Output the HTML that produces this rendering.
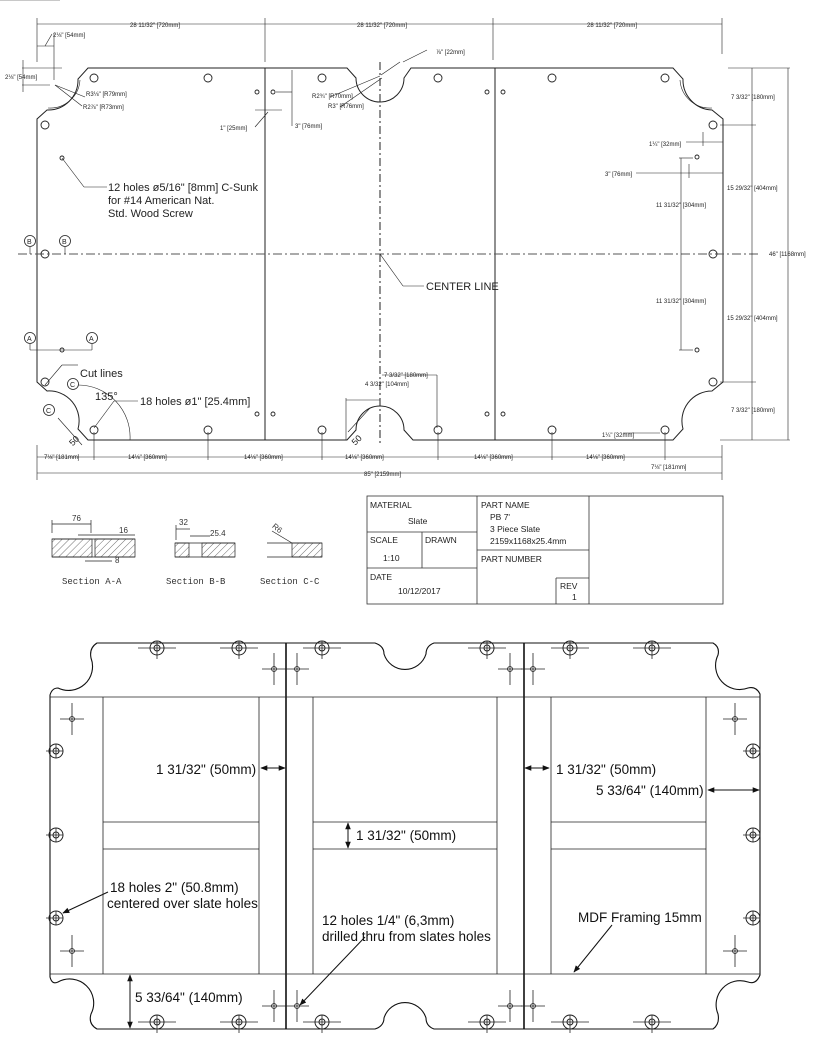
<!DOCTYPE html>
<html><head><meta charset="utf-8"><style>
html,body{margin:0;padding:0;background:#fff;}
svg{display:block;}
.d{font-family:"Liberation Sans Narrow","Liberation Sans",sans-serif;font-size:6px;fill:#222;}
.n{font-family:"Liberation Sans Narrow","Liberation Sans",sans-serif;font-size:11px;fill:#222;}
.a{font-family:"Liberation Sans",Arial,sans-serif;font-size:13.5px;fill:#111;}
.t{font-family:"Liberation Sans",Arial,sans-serif;font-size:8.5px;fill:#222;}
</style></head><body>
<svg width="814" height="1054" viewBox="0 0 814 1054" xmlns="http://www.w3.org/2000/svg">
<defs>
<marker id="ar" viewBox="0 0 10 10" refX="9" refY="5" markerWidth="7" markerHeight="7" orient="auto-start-reverse"><path d="M0,1 L10,5 L0,9 z" fill="#111"/></marker>
<marker id="as" viewBox="0 0 10 10" refX="9" refY="5" markerWidth="4" markerHeight="4" orient="auto-start-reverse"><path d="M0,2 L10,5 L0,8 z" fill="#222"/></marker>
<pattern id="h" width="5" height="5" patternUnits="userSpaceOnUse" patternTransform="rotate(45)"><line x1="0" y1="0" x2="0" y2="5" stroke="#333" stroke-width="0.7"/></pattern>
<g id="hole"><circle r="7" fill="none" stroke="#222" stroke-width="1"/><circle r="3" fill="none" stroke="#222" stroke-width="1"/><line x1="-19" y1="0" x2="19" y2="0" stroke="#222" stroke-width="0.8"/><line x1="0" y1="-7" x2="0" y2="11" stroke="#222" stroke-width="0.8"/></g>
<g id="vhole"><circle r="7" fill="none" stroke="#222" stroke-width="1"/><circle r="3" fill="none" stroke="#222" stroke-width="1"/><line x1="-10" y1="0" x2="7" y2="0" stroke="#222" stroke-width="0.8"/><line x1="0" y1="-7" x2="0" y2="7" stroke="#222" stroke-width="0.8"/></g>
<g id="cr"><circle r="2.5" fill="none" stroke="#222" stroke-width="0.8"/><line x1="-12" y1="0" x2="12" y2="0" stroke="#222" stroke-width="0.8"/><line x1="0" y1="-16" x2="0" y2="16" stroke="#222" stroke-width="0.8"/></g>
</defs>

<!-- ================= TOP DRAWING ================= -->
<g fill="none" stroke="#222" stroke-width="1">
<path d="M88,68 L347,68 L356,78 A24,24 0 0 0 404,78 L411,68 L673,68 L683,79 A30,30 0 0 0 712,110 L723,119 L723,382 L712,391 A30,30 0 0 0 683,429 L673,440 L413,440 L404,430 A24,24 0 0 0 356,430 L347,440 L88,440 L78,429 A30,30 0 0 0 47,391 L37,382 L37,119 L47,110 A30,30 0 0 0 78,79 Z"/>
<path d="M80,80 A30,30 0 0 1 48,108" stroke-width="0.6"/>
<path d="M680,80 A30,30 0 0 0 712,108" stroke-width="0.6"/>
<line x1="265" y1="68" x2="265" y2="440"/>
<line x1="495" y1="68" x2="495" y2="440"/>
<line x1="380" y1="62" x2="380" y2="445" stroke-dasharray="8,3,2,3"/>
<line x1="18" y1="254" x2="760" y2="254" stroke-dasharray="9,3,2,3" stroke="#555"/>
</g>
<g fill="none" stroke="#222" stroke-width="0.9">
<circle cx="94" cy="78" r="4"/><circle cx="208" cy="78" r="4"/><circle cx="322" cy="78" r="4"/><circle cx="438" cy="78" r="4"/><circle cx="552" cy="78" r="4"/><circle cx="665" cy="78" r="4"/>
<circle cx="94" cy="430" r="4"/><circle cx="208" cy="430" r="4"/><circle cx="322" cy="430" r="4"/><circle cx="438" cy="430" r="4"/><circle cx="552" cy="430" r="4"/><circle cx="665" cy="430" r="4"/>
<circle cx="45" cy="125" r="4"/><circle cx="45" cy="254" r="4"/><circle cx="45" cy="382" r="4"/>
<circle cx="713" cy="125" r="4"/><circle cx="713" cy="254" r="4"/><circle cx="713" cy="382" r="4"/>
<circle cx="257" cy="92" r="2"/><circle cx="273" cy="92" r="2"/><circle cx="487" cy="92" r="2"/><circle cx="503" cy="92" r="2"/>
<circle cx="257" cy="414" r="2"/><circle cx="273" cy="414" r="2"/><circle cx="487" cy="414" r="2"/><circle cx="503" cy="414" r="2"/>
<circle cx="62" cy="158" r="2"/><circle cx="697" cy="157" r="2"/><circle cx="697" cy="350" r="2"/><circle cx="62" cy="350" r="2"/>
</g>
<!-- dimension lines -->
<g stroke="#222" stroke-width="0.6" fill="none">
<line x1="37" y1="24" x2="722" y2="24"/>
<line x1="37" y1="18" x2="37" y2="62"/><line x1="265" y1="18" x2="265" y2="62"/><line x1="493" y1="18" x2="493" y2="60"/><line x1="722" y1="18" x2="722" y2="54"/>
<line x1="54" y1="33" x2="54" y2="80"/><line x1="37" y1="46" x2="54" y2="46"/><line x1="45" y1="46" x2="52" y2="34"/>
<line x1="22" y1="68" x2="62" y2="68"/><line x1="22" y1="85" x2="50" y2="85"/><line x1="23" y1="60" x2="23" y2="92"/>
<line x1="55" y1="85" x2="85" y2="97"/><line x1="55" y1="85" x2="82" y2="106"/>
<line x1="255" y1="110" x2="282" y2="110"/><line x1="268" y1="112" x2="255" y2="127"/>
<line x1="276" y1="92" x2="292" y2="92"/><line x1="292" y1="70" x2="292" y2="126"/>
<line x1="381" y1="75" x2="400" y2="62"/><line x1="403" y1="62" x2="427" y2="50"/>
<line x1="330" y1="97" x2="380" y2="76"/><line x1="340" y1="107" x2="382" y2="78"/>
<line x1="720" y1="125" x2="756" y2="125"/><line x1="728" y1="68" x2="790" y2="68"/><line x1="720" y1="440" x2="790" y2="440"/><line x1="720" y1="382" x2="756" y2="382"/>
<line x1="752" y1="68" x2="752" y2="440"/><line x1="788" y1="68" x2="788" y2="440"/>
<line x1="686" y1="142" x2="723" y2="142"/><line x1="703" y1="132" x2="703" y2="146"/>
<line x1="636" y1="173" x2="723" y2="173"/><line x1="689" y1="164" x2="689" y2="178"/>
<line x1="679" y1="158" x2="693" y2="158"/><line x1="679" y1="350" x2="693" y2="350"/><line x1="681" y1="158" x2="681" y2="350"/>
<line x1="37" y1="445" x2="37" y2="480"/><line x1="722" y1="445" x2="722" y2="480"/>
<line x1="37" y1="457" x2="722" y2="457"/><line x1="37" y1="473" x2="722" y2="473"/>
<line x1="94" y1="432" x2="94" y2="460"/><line x1="208" y1="432" x2="208" y2="460"/><line x1="322" y1="432" x2="322" y2="460"/><line x1="438" y1="432" x2="438" y2="460"/><line x1="552" y1="432" x2="552" y2="460"/><line x1="665" y1="432" x2="665" y2="460"/>
<line x1="346" y1="398" x2="346" y2="440"/><line x1="346" y1="400" x2="380" y2="400"/><line x1="382" y1="375" x2="437" y2="375"/><line x1="437" y1="375" x2="437" y2="428"/>
<line x1="623" y1="433" x2="660" y2="433"/>
<line x1="62" y1="158" x2="84" y2="187"/><line x1="84" y1="187" x2="107" y2="187"/>
<line x1="380" y1="254" x2="403" y2="286"/><line x1="403" y1="286" x2="424" y2="286"/>
<line x1="45" y1="385" x2="62" y2="365"/><line x1="62" y1="365" x2="78" y2="365"/>
<line x1="94" y1="428" x2="114" y2="401"/><line x1="114" y1="401" x2="138" y2="401"/>
<path d="M78,385 A52,52 0 0 1 130,440"/>
<line x1="60" y1" y2="0"/>
<line x1="58" y1="418" x2="82" y2="445"/><line x1="348" y1="432" x2="370" y2="408"/>
<line x1="30" y1="247" x2="30" y2="254"/><line x1="65" y1="247" x2="65" y2="254"/>
<line x1="30" y1="344" x2="30" y2="350"/><line x1="92" y1="344" x2="92" y2="350"/><line x1="30" y1="350" x2="92" y2="350"/>
</g>
<g fill="none" stroke="#222" stroke-width="0.8">
<circle cx="30" cy="241" r="5.5"/><circle cx="65" cy="241" r="5.5"/><circle cx="30" cy="338" r="5.5"/><circle cx="92" cy="338" r="5.5"/>
<circle cx="73" cy="384" r="5.5"/><circle cx="49" cy="410" r="5.5"/>
</g>
<g class="d">
<text x="30" y="10" font-size="10" style="font-size:8px" fill="#222"></text>
<text x="130" y="27">28 11/32" [720mm]</text><text x="357" y="27">28 11/32" [720mm]</text><text x="587" y="27">28 11/32" [720mm]</text>
<text x="53" y="37">2⅛" [54mm]</text><text x="5" y="79">2⅛" [54mm]</text>
<text x="86" y="96">R3⅛" [R79mm]</text><text x="83" y="109">R2⅞" [R73mm]</text>
<text x="220" y="130">1" [25mm]</text><text x="295" y="128">3" [76mm]</text>
<text x="312" y="98">R2¾" [R70mm]</text><text x="328" y="108">R3" [R76mm]</text>
<text x="436" y="54">⅞" [22mm]</text>
<text x="731" y="99">7 3/32" [180mm]</text><text x="727" y="190">15 29/32" [404mm]</text><text x="769" y="256">46" [1168mm]</text>
<text x="727" y="320">15 29/32" [404mm]</text><text x="731" y="412">7 3/32" [180mm]</text>
<text x="649" y="146">1¼" [32mm]</text><text x="605" y="176">3" [76mm]</text>
<text x="656" y="207">11 31/32" [304mm]</text><text x="656" y="303">11 31/32" [304mm]</text>
<text x="602" y="437">1¼" [32mm]</text>
<text x="44" y="459">7⅛" [181mm]</text><text x="128" y="459">14⅛" [360mm]</text><text x="244" y="459">14⅛" [360mm]</text>
<text x="345" y="459">14⅛" [360mm]</text><text x="474" y="459">14⅛" [360mm]</text><text x="586" y="459">14⅛" [360mm]</text>
<text x="651" y="469">7⅛" [181mm]</text><text x="364" y="476">85" [2159mm]</text>
<text x="365" y="386">4 3/32" [104mm]</text><text x="384" y="377">7 3/32" [180mm]</text>
</g>
<g class="n">
<text x="108" y="191">12 holes ø5/16" [8mm] C-Sunk</text>
<text x="108" y="204">for #14 American Nat.</text>
<text x="108" y="217">Std. Wood Screw</text>
<text x="426" y="290">CENTER LINE</text>
<text x="80" y="377">Cut lines</text>
<text x="95" y="400">135°</text>
<text x="140" y="405">18 holes ø1" [25.4mm]</text>
<text x="68" y="445" transform="rotate(-45 72 440)" style="font-size:9px">50</text>
<text x="350" y="443" transform="rotate(-45 356 438)" style="font-size:9px">50</text>
</g>
<g font-family="Liberation Sans" font-size="7" fill="#222"><text x="27" y="244">B</text><text x="62" y="244">B</text><text x="27" y="341">A</text><text x="89" y="341">A</text><text x="70" y="387">C</text><text x="46" y="413">C</text></g>

<!-- ================= SECTIONS ================= -->
<g stroke="#222" stroke-width="0.7">
<rect x="52" y="539" width="40" height="18" fill="url(#h)"/><rect x="95" y="539" width="40" height="18" fill="url(#h)"/>
<line x1="52" y1="539" x2="135" y2="539"/><line x1="52" y1="557" x2="135" y2="557"/>
<line x1="52" y1="520" x2="52" y2="533"/><line x1="91" y1="520" x2="91" y2="533"/><line x1="52" y1="524" x2="91" y2="524"/>
<line x1="78" y1="535" x2="135" y2="535"/><line x1="85" y1="561" x2="112" y2="561"/>
<rect x="175" y="543" width="14" height="14" fill="url(#h)"/><rect x="202" y="543" width="33" height="14" fill="url(#h)"/>
<line x1="175" y1="543" x2="235" y2="543"/><line x1="175" y1="557" x2="235" y2="557"/>
<line x1="176" y1="525" x2="176" y2="540"/><line x1="176" y1="529" x2="190" y2="529"/><line x1="190" y1="536" x2="210" y2="536"/>
<line x1="267" y1="543" x2="322" y2="543" fill="none"/><line x1="267" y1="557" x2="322" y2="557"/>
<rect x="292" y="543" width="30" height="14" fill="url(#h)"/>
<line x1="272" y1="531" x2="292" y2="543"/>
</g>
<g font-family="Liberation Sans" font-size="8" fill="#333"><text x="72" y="521">76</text><text x="119" y="533">16</text><text x="115" y="563">8</text><text x="179" y="525">32</text><text x="210" y="536">25.4</text><text x="272" y="530" transform="rotate(40 276 528)">R6</text></g>
<g font-family="Liberation Mono" font-size="9" fill="#333"><text x="62" y="584">Section A-A</text><text x="166" y="584">Section B-B</text><text x="260" y="584">Section C-C</text></g>

<!-- ================= TITLE BLOCK ================= -->
<g stroke="#333" stroke-width="0.8" fill="none">
<rect x="367" y="496" width="356" height="108"/>
<line x1="477" y1="496" x2="477" y2="604"/><line x1="589" y1="496" x2="589" y2="604"/>
<line x1="367" y1="532" x2="477" y2="532"/><line x1="367" y1="568" x2="477" y2="568"/><line x1="422" y1="532" x2="422" y2="568"/>
<line x1="477" y1="550" x2="589" y2="550"/><line x1="556" y1="578" x2="556" y2="604"/><line x1="556" y1="578" x2="589" y2="578"/>
</g>
<g class="t">
<text x="370" y="508">MATERIAL</text><text x="408" y="524">Slate</text>
<text x="370" y="543">SCALE</text><text x="425" y="543">DRAWN</text><text x="383" y="561">1:10</text>
<text x="370" y="580">DATE</text><text x="398" y="594">10/12/2017</text>
<text x="481" y="508">PART NAME</text><text x="490" y="520">PB 7'</text><text x="490" y="532">3 Piece Slate</text><text x="490" y="544">2159x1168x25.4mm</text>
<text x="481" y="562">PART NUMBER</text><text x="560" y="589">REV</text><text x="572" y="600">1</text>
</g>

<!-- ================= BOTTOM DRAWING ================= -->
<g fill="none" stroke="#111" stroke-width="1.1">
<path d="M97,643 L375,643 Q384,646 384,654 A22,22 0 0 0 426,654 Q426,646 434,643 L713,643 Q720,647 718,655 A24,24 0 0 0 748,688 Q756,686 760,694 L760,975 Q756,985 748,982 A24,24 0 0 0 718,1014 Q720,1024 713,1029 L434,1029 Q426,1026 426,1018 A22,22 0 0 0 384,1018 Q384,1026 375,1029 L97,1029 Q88,1024 91,1014 A24,24 0 0 0 58,982 Q52,985 50,977 L50,695 Q52,688 58,688 A24,24 0 0 0 91,658 Q89,648 97,643 Z"/>
<line x1="286" y1="643" x2="286" y2="1029" stroke-width="1.6"/>
<line x1="524" y1="643" x2="524" y2="1029" stroke-width="1.6"/>
</g>
<g fill="none" stroke="#222" stroke-width="0.8">
<line x1="50" y1="697" x2="760" y2="697"/><line x1="50" y1="974" x2="760" y2="974"/>
<line x1="103" y1="697" x2="103" y2="974"/><line x1="259" y1="697" x2="259" y2="974"/>
<line x1="313" y1="697" x2="313" y2="974"/><line x1="497" y1="697" x2="497" y2="974"/>
<line x1="551" y1="697" x2="551" y2="974"/><line x1="706" y1="697" x2="706" y2="974"/>
<line x1="103" y1="822" x2="259" y2="822"/><line x1="103" y1="849" x2="259" y2="849"/>
<line x1="313" y1="822" x2="497" y2="822"/><line x1="313" y1="849" x2="497" y2="849"/>
<line x1="551" y1="822" x2="706" y2="822"/><line x1="551" y1="849" x2="706" y2="849"/>
</g>
<use href="#hole" x="157" y="648"/><use href="#hole" x="239" y="648"/><use href="#hole" x="322" y="648"/><use href="#hole" x="487" y="648"/><use href="#hole" x="570" y="648"/><use href="#hole" x="652" y="648"/>
<use href="#hole" x="157" y="1022"/><use href="#hole" x="239" y="1022"/><use href="#hole" x="322" y="1022"/><use href="#hole" x="487" y="1022"/><use href="#hole" x="570" y="1022"/><use href="#hole" x="652" y="1022"/>
<use href="#vhole" x="56" y="751"/><use href="#vhole" x="56" y="835"/><use href="#vhole" x="56" y="918"/>
<use href="#vhole" x="753" y="751"/><use href="#vhole" x="753" y="835"/><use href="#vhole" x="753" y="918"/>
<use href="#cr" x="72" y="719"/><use href="#cr" x="72" y="951"/><use href="#cr" x="735" y="719"/><use href="#cr" x="735" y="951"/>
<use href="#cr" x="274" y="669"/><use href="#cr" x="297" y="669"/><use href="#cr" x="510" y="669"/><use href="#cr" x="533" y="669"/>
<use href="#cr" x="274" y="1006"/><use href="#cr" x="297" y="1006"/><use href="#cr" x="510" y="1006"/><use href="#cr" x="533" y="1006"/>
<g stroke="#111" stroke-width="1" fill="none">
<line x1="261" y1="768" x2="285" y2="768" marker-start="url(#ar)" marker-end="url(#ar)"/>
<line x1="525" y1="768" x2="549" y2="768" marker-start="url(#ar)" marker-end="url(#ar)"/>
<line x1="708" y1="790" x2="759" y2="790" marker-start="url(#ar)" marker-end="url(#ar)"/>
<line x1="348" y1="823" x2="348" y2="848" marker-start="url(#ar)" marker-end="url(#ar)"/>
<line x1="130" y1="975" x2="130" y2="1028" marker-start="url(#ar)" marker-end="url(#ar)"/>
<line x1="108" y1="892" x2="63" y2="913" marker-end="url(#ar)"/>
<line x1="365" y1="937" x2="300" y2="1005" marker-end="url(#ar)"/>
<line x1="612" y1="925" x2="574" y2="972" marker-end="url(#ar)"/>
</g>
<g class="a">
<text x="156" y="774">1 31/32" (50mm)</text>
<text x="556" y="774">1 31/32" (50mm)</text>
<text x="596" y="795">5 33/64" (140mm)</text>
<text x="356" y="840">1 31/32" (50mm)</text>
<text x="110" y="892">18 holes 2" (50.8mm)</text>
<text x="107" y="908">centered over slate holes</text>
<text x="322" y="925">12 holes 1/4" (6,3mm)</text>
<text x="322" y="941">drilled thru from slates holes</text>
<text x="578" y="922">MDF Framing 15mm</text>
<text x="135" y="1002">5 33/64" (140mm)</text>
</g>
</svg>
</body></html>
